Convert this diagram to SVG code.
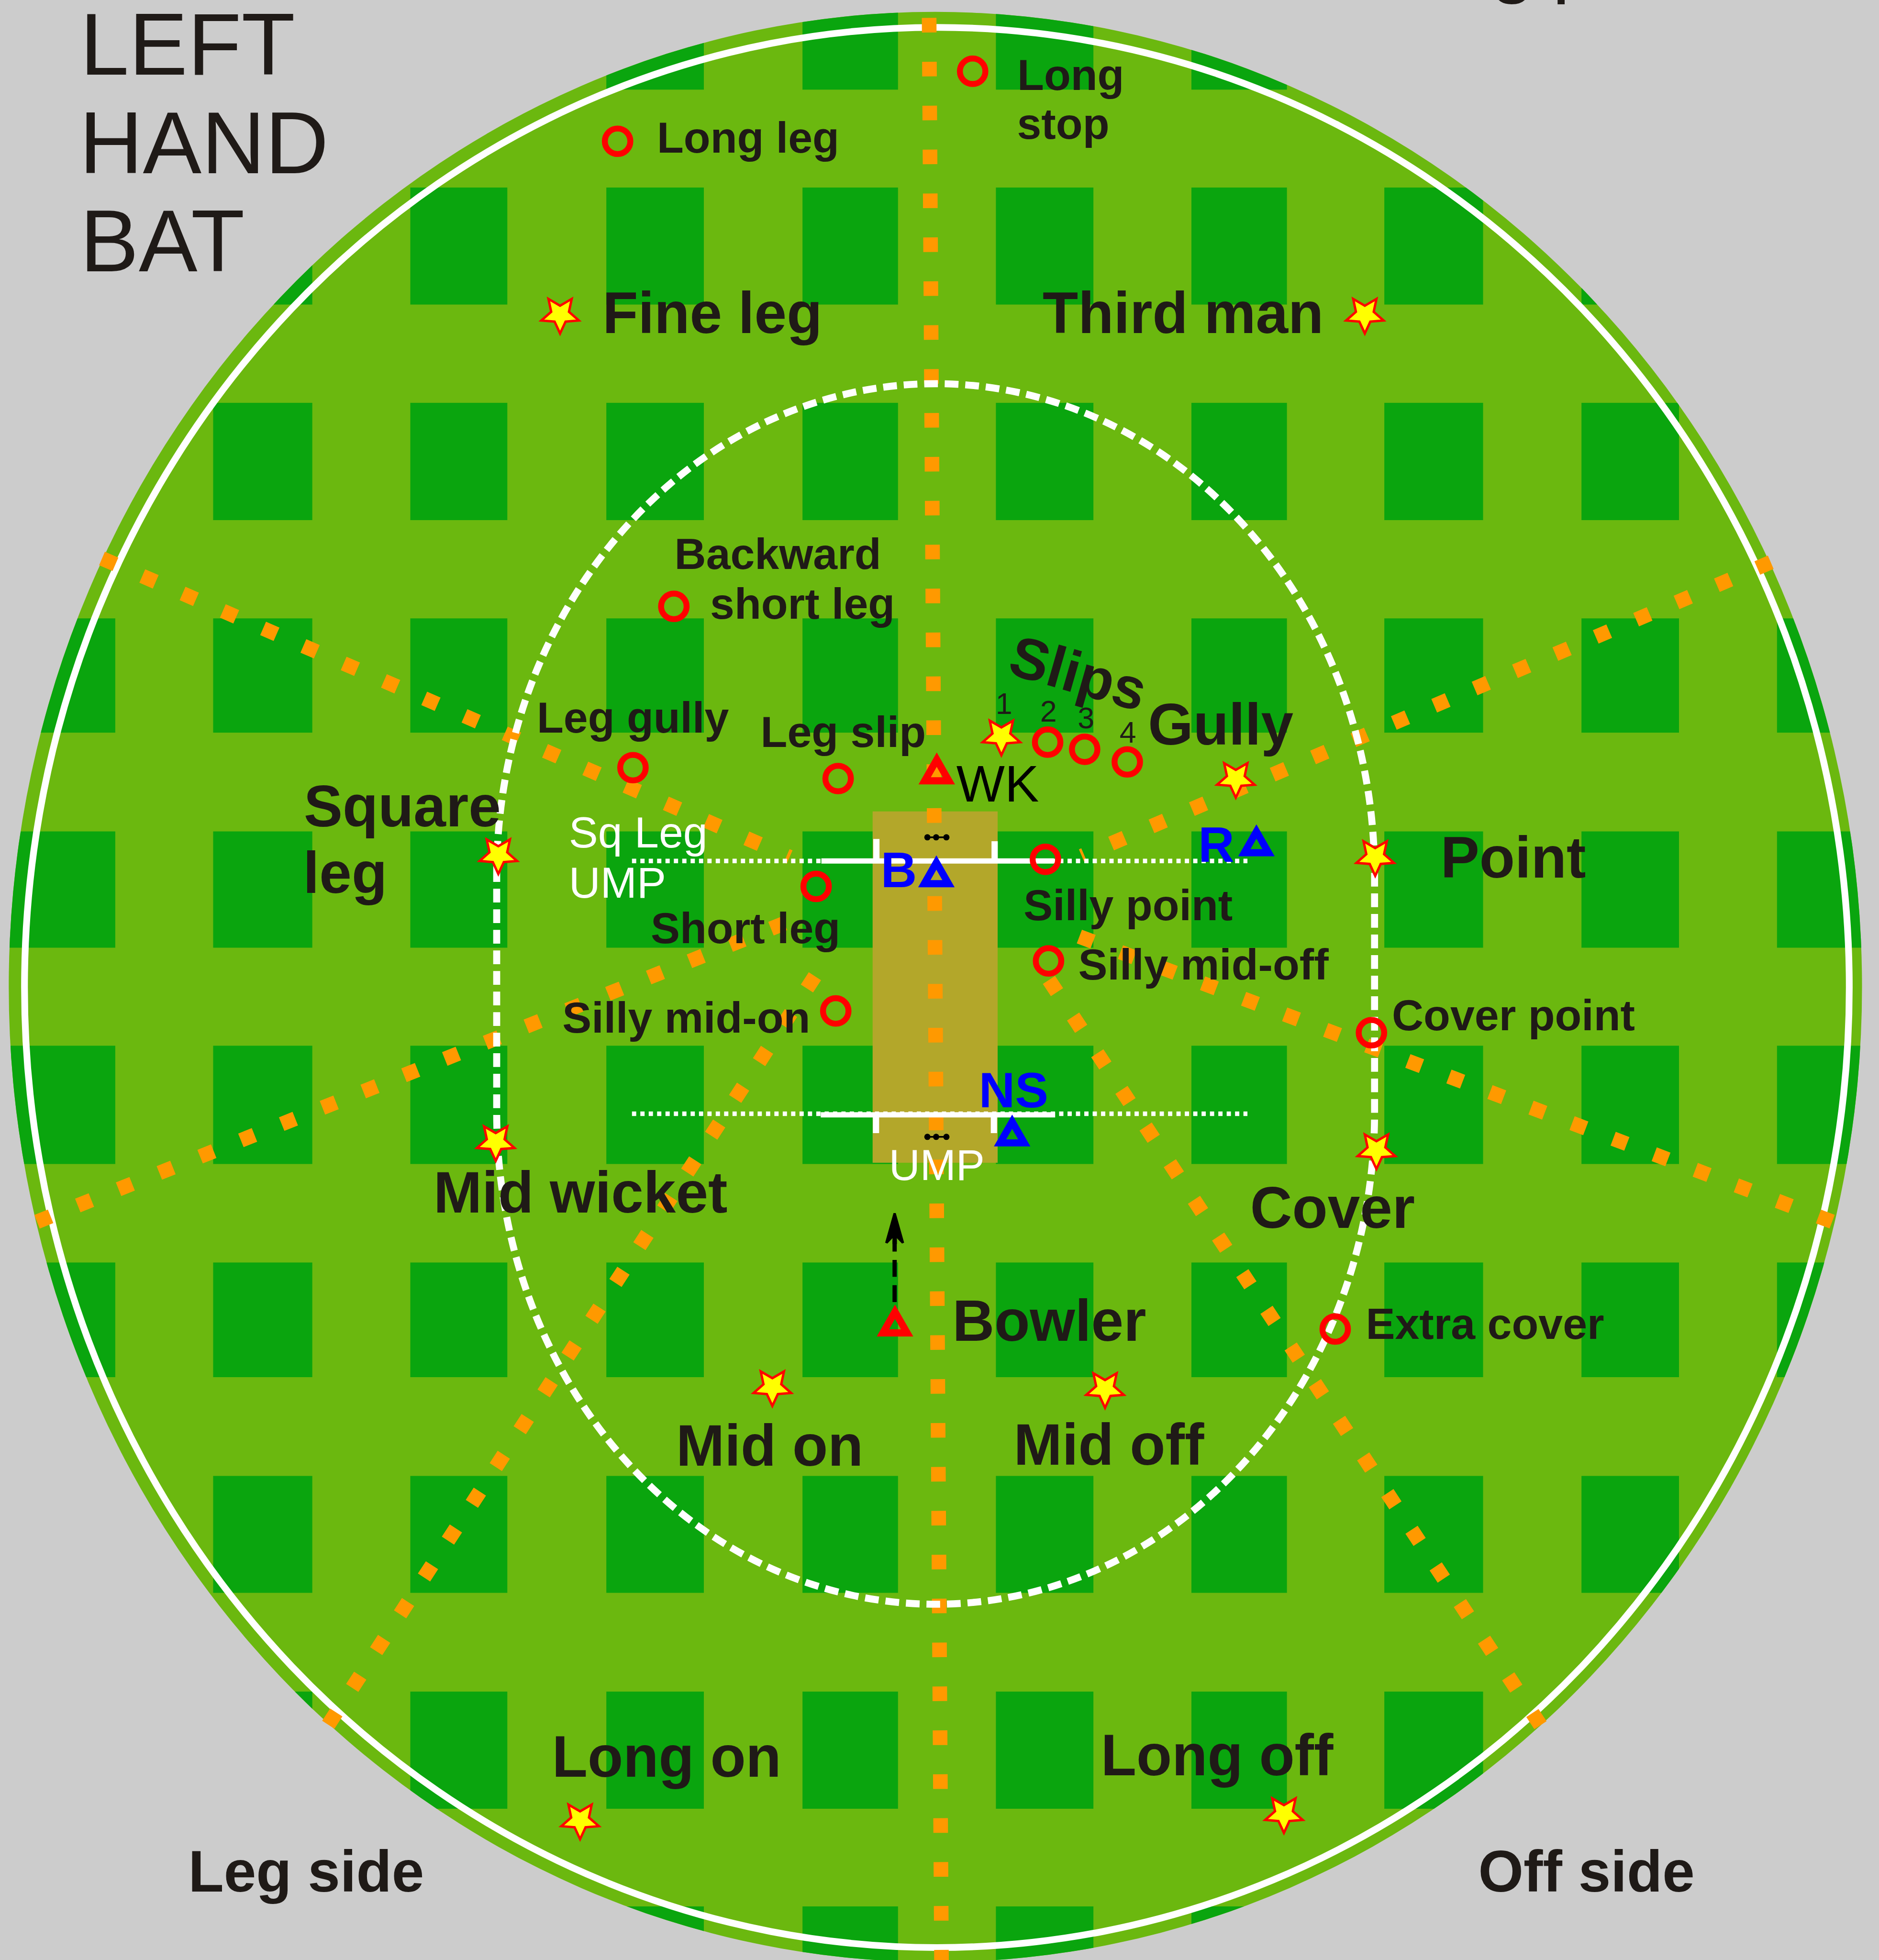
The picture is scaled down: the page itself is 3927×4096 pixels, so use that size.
<svg xmlns="http://www.w3.org/2000/svg" xmlns:xlink="http://www.w3.org/1999/xlink" width="3927" height="4096" viewBox="0 0 3927 4096">
<style>
text{font-family:"Liberation Sans",Arial,sans-serif;fill:#1f1a17}
.b{font-weight:700}
.s{font-size:35px}
.m{font-size:46.5px}
.big{font-size:70.4px}
.num{font-size:24px}
.w{fill:#fff;font-size:35px}
.blue{fill:#00f;font-weight:700;font-size:40px}
.f{fill:none;stroke:#f00;stroke-width:4.75px}
.o{fill:none;stroke:#f90;stroke-width:11.7px;stroke-dasharray:11.7 23.42}
.tr{fill:none;stroke:#f00;stroke-width:5.7px}
.tb{fill:none;stroke:#00f;stroke-width:5.7px}
.star{fill:#ff0;stroke:#f00;stroke-width:1.9px;stroke-miterlimit:4}
.dot{fill:none;stroke:#fff;stroke-width:3.6px;stroke-dasharray:3.4 3.3}
.cr{fill:none;stroke:#fff}
</style>
<defs>
<path id="star" d="M0,14L-4.4,4.5L-15,3.64L-7.1,-3.3L-9.3,-13.6L0,-8.2L9.3,-13.6L7.1,-3.3L15,3.64L4.4,4.5Z"/>
<path id="tri" d="M0,-11.3L9.68,5.61H-9.68Z"/>
<g id="stumps"><path d="M741.8,0H757" stroke="#000" stroke-width="1.3"/><circle cx="741.8" r="2.5"/><circle cx="748.8" r="2.5"/><circle cx="757" r="2.5"/></g>
<clipPath id="field"><ellipse cx="748.2" cy="789.4" rx="741.2" ry="779.9"/></clipPath>
<clipPath id="cols">
<rect x="0" y="0" width="92.2" height="1600"/><rect x="170.5" y="0" width="79.3" height="1600"/><rect x="328.2" y="0" width="77.6" height="1600"/><rect x="485" y="0" width="78" height="1600"/><rect x="641.9" y="0" width="76.4" height="1600"/><rect x="796.6" y="0" width="78" height="1600"/><rect x="953" y="0" width="76.4" height="1600"/><rect x="1107.3" y="0" width="79" height="1600"/><rect x="1265" y="0" width="78" height="1600"/><rect x="1421.4" y="0" width="90" height="1600"/>
</clipPath>
</defs>
<g transform="scale(2.6128)">
<rect width="1503" height="1568" fill="#ccc"/>
<g id="ground">
<ellipse cx="748.2" cy="789.4" rx="741.2" ry="779.9" fill="#6bb80f"/>
<g clip-path="url(#field)"><g clip-path="url(#cols)" fill="#0aa50e">
<rect x="0" y="0" width="1503" height="71.7"/><rect x="0" y="150" width="1503" height="93.6"/><rect x="0" y="322.2" width="1503" height="93.8"/><rect x="0" y="494.6" width="1503" height="91.4"/><rect x="0" y="665" width="1503" height="93"/><rect x="0" y="836.4" width="1503" height="94.6"/><rect x="0" y="1009.8" width="1503" height="91.7"/><rect x="0" y="1180.5" width="1503" height="93.5"/><rect x="0" y="1353" width="1503" height="93.7"/><rect x="0" y="1524.8" width="1503" height="60"/>
</g></g>
<ellipse cx="749.4" cy="789.8" rx="729.8" ry="767.9" fill="none" stroke="#fff" stroke-width="5.4"/>
<rect id="pitch" x="698" y="649" width="100" height="281" fill="#b3a72a"/>
</g>
<g id="connectors">
<path class="o" d="M743.2,14.27L747.3,658.2"/>
<path class="o" d="M747.66,716.75L753.1,1567.8"/>
<path class="o" d="M81.6,446.7L631.6,685.5"/>
<path class="o" d="M1416.4,449.7L865.3,684.7"/>
<path class="o" d="M29.6,977.2L627.5,738.5"/>
<path class="o" d="M1465.5,977.1L862.1,748.6"/>
<path class="o" d="M262.6,1379.5L651.9,780.7"/>
<path class="o" d="M1232.2,1379.9L838.6,783.1"/>
<path id="circle30" d="M397.3,700A351,393 0 0 1 1099.5,700V890A351,393 0 0 1 397.3,890Z" fill="none" stroke="#fff" stroke-width="5.6" stroke-dasharray="11 5.45"/>
<path class="dot" d="M505.5,688.6H997.8"/>
<path class="dot" d="M505.5,890.8H997.8"/>
<path class="cr" stroke-width="4.2" d="M657,688.6H843M656.5,891.7H844"/>
<path class="cr" stroke-width="5" d="M701,671V688M795.6,672.8V688M700.7,892V906.3M795,892V906.3"/>
<use xlink:href="#stumps" href="#stumps" transform="translate(0,669.7)"/>
<use xlink:href="#stumps" href="#stumps" transform="translate(0,909.3)"/>
<path d="M715.6,1041.4V992" fill="none" stroke="#000" stroke-width="3.4" stroke-dasharray="13.5 6.7"/>
<path d="M714.7,970.2H716.5L723.2,994L721.5,994.6L717.4,990.3V995H713.9V990.3L709.8,994.6L708,994Z" fill="#000"/>
</g>
<g id="title"><text class="big" x="64" y="59.7">LEFT</text><text class="big" x="63.4" y="138.5">HAND</text><text class="big" x="64" y="217">BAT</text></g>
<g id="cutoff-heading"><text style="font-size:64px" y="-10"><tspan x="1192">g</tspan><tspan x="1241.6">p</tspan></text></g>
<g id="long-leg"><circle class="f" cx="494" cy="113" r="10.2"/><text class="b" style="font-size:35px" x="525.5" y="122">Long leg</text></g>
<g id="long-stop"><circle class="f" cx="778" cy="57" r="10.2"/><text class="b s" x="813.7" y="72">Long</text><text class="b s" x="813.5" y="111">stop</text></g>
<g id="fine-leg"><use class="star" xlink:href="#star" href="#star" x="448" y="252.7"/><text class="b m" x="482" y="266.4">Fine leg</text></g>
<g id="third-man"><use class="star" xlink:href="#star" href="#star" x="1091.7" y="252.7"/><text class="b m" x="834" y="266.4">Third man</text></g>
<g id="backward-short-leg"><circle class="f" cx="539" cy="485" r="10.2"/><text class="b s" x="539.5" y="455">Backward</text><text class="b s" x="568" y="495">short leg</text></g>
<g id="slips"><text class="b m" transform="translate(804.7,538.5) rotate(16)">Slips</text>
<text class="num" x="796.4" y="571">1</text><text class="num" x="832" y="577">2</text><text class="num" x="862" y="582.5">3</text><text class="num" x="895.5" y="594">4</text>
<use class="star" xlink:href="#star" href="#star" x="801" y="590"/><circle class="f" cx="838" cy="593.6" r="10.2"/><circle class="f" cx="867.6" cy="599.3" r="10.2"/><circle class="f" cx="901.7" cy="609.4" r="10.2"/></g>
<g id="gully"><use class="star" xlink:href="#star" href="#star" x="988.5" y="624"/><text class="b m" x="918.3" y="595.5">Gully</text></g>
<g id="leg-gully"><circle class="f" cx="506.3" cy="614" r="10.2"/><text class="b s" x="429.4" y="586">Leg gully</text></g>
<g id="leg-slip"><circle class="f" cx="670.4" cy="622.7" r="10.2"/><text class="b s" x="608.4" y="597.5">Leg slip</text></g>
<g id="wicket-keeper"><use class="tr" xlink:href="#tri" href="#tri" x="749.3" y="618.9"/><text style="font-size:41px;fill:#000" x="765" y="641">WK</text></g>
<g id="square-leg"><use class="star" xlink:href="#star" href="#star" x="398.6" y="685"/><text class="b m" x="243" y="661">Square</text><text class="b m" x="242.5" y="714">leg</text></g>
<g id="square-leg-umpire"><text class="w" x="455" y="677.8">Sq Leg</text><text class="w" x="455" y="718">UMP</text></g>
<g id="batter"><use class="tb" xlink:href="#tri" href="#tri" x="749" y="701.2"/><text class="blue" x="704.5" y="709.7">B</text></g>
<g id="runner"><use class="tb" xlink:href="#tri" href="#tri" x="1005" y="676.4"/><text class="blue" x="958.5" y="689.4">R</text></g>
<g id="non-striker"><use class="tb" xlink:href="#tri" href="#tri" x="809.6" y="908.5"/><text class="blue" x="783" y="885.7">NS</text></g>
<g id="umpire"><text class="w" style="font-size:34.5px" x="711" y="944">UMP</text></g>
<g id="short-leg"><circle class="f" cx="652.8" cy="709" r="10.2"/><text class="b s" x="520.5" y="754.5">Short leg</text></g>
<g id="silly-mid-on"><circle class="f" cx="668.5" cy="808.6" r="10.2"/><text class="b s" x="449.8" y="826">Silly mid-on</text></g>
<g id="silly-point"><circle class="f" cx="836.2" cy="687.3" r="10.2"/><text class="b s" x="818.8" y="736">Silly point</text></g>
<g id="silly-mid-off"><circle class="f" cx="838.7" cy="768.6" r="10.2"/><text class="b s" x="862.5" y="783.5">Silly mid-off</text></g>
<g id="point"><use class="star" xlink:href="#star" href="#star" x="1100" y="686.5"/><text class="b m" x="1152.3" y="702">Point</text></g>
<g id="cover-point"><circle class="f" cx="1097" cy="826" r="10.2"/><text class="b s" x="1113.4" y="824">Cover point</text></g>
<g id="cover"><use class="star" xlink:href="#star" href="#star" x="1101" y="921"/><text class="b m" x="1000" y="982">Cover</text></g>
<g id="mid-wicket"><use class="star" xlink:href="#star" href="#star" x="396.5" y="914.5"/><text class="b m" x="346.8" y="970">Mid wicket</text></g>
<g id="extra-cover"><circle class="f" cx="1068" cy="1063" r="10.2"/><text class="b s" x="1092.5" y="1071">Extra cover</text></g>
<g id="bowler"><use class="tr" xlink:href="#tri" href="#tri" x="715.9" y="1060.5"/><text class="b m" x="761.8" y="1072.6">Bowler</text></g>
<g id="mid-on"><use class="star" xlink:href="#star" href="#star" x="617.8" y="1110.5"/><text class="b m" x="540.8" y="1172.2">Mid on</text></g>
<g id="mid-off"><use class="star" xlink:href="#star" href="#star" x="883.9" y="1112"/><text class="b m" x="810.8" y="1171.5">Mid off</text></g>
<g id="long-on"><use class="star" xlink:href="#star" href="#star" x="464" y="1457"/><text class="b m" x="441.6" y="1421">Long on</text></g>
<g id="long-off"><use class="star" xlink:href="#star" href="#star" x="1027" y="1452"/><text class="b m" x="880.6" y="1420">Long off</text></g>
<g id="sides"><text class="b m" x="150.6" y="1512.8">Leg side</text><text class="b m" x="1182.5" y="1512.8">Off side</text></g>
</g>
</svg>
